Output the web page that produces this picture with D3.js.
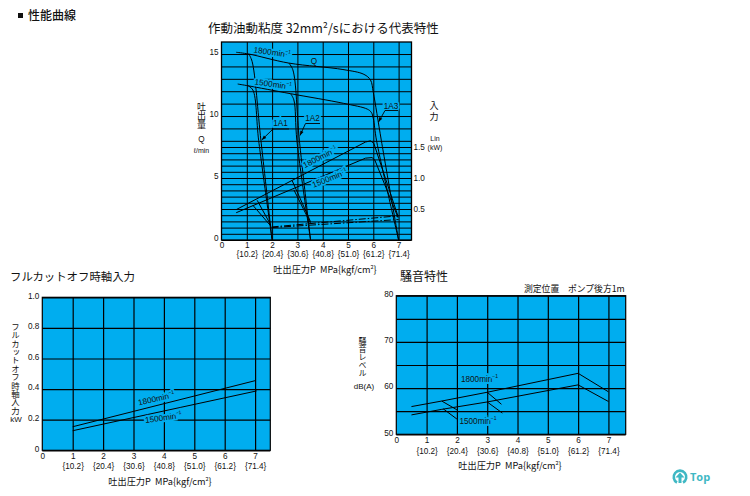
<!DOCTYPE html>
<html>
<head>
<meta charset="utf-8">
<script src="https://cdn.jsdelivr.net/npm/d3@7"></script>
<style>
  html, body { margin: 0; background: #fff; }
  svg { display: block; }
  text { font-family: "Liberation Sans", sans-serif; fill: #111; }
  .jp { font-family: "Noto Sans CJK JP", sans-serif; }
  .tick text { font-family: "Liberation Sans", sans-serif; font-size: 8.2px; fill: #111; }
  .halo { paint-order: stroke; stroke: #00adef; stroke-width: 3.5px; }
</style>
</head>
<body>
<svg id="chart" width="750" height="496"></svg>
<script>
// shared x labels
const pressureTicks = [0, 1, 2, 3, 4, 5, 6, 7]
const kgfLabels = ['', '{10.2}', '{20.4}', '{30.6}', '{40.8}', '{51.0}', '{61.2}', '{71.4}']
const xTitle = '吐出圧力P\u00a0\u00a0MPa{kgf/cm'

// main chart, flow in l/min, input in kW
const flowGrid = [0,0.5,1,1.5,2,2.5,3,3.5,4,4.5,5,5.5,6,6.5,7,7.5,8,9,10,11,12,13,14,15]
const flowTicks = [0, 5, 10, 15]
const kwTicks = [0.5, 1.0, 1.5]
const q1800 = [[0.58,15.14],[1.08,15],[2.66,14.27],[4.8,13.75],[5.63,13.36],[5.89,12.9],[6.0,11.9],[6.32,8],[7,0]]
const q1500 = [[0.64,12.58],[1.05,12.44],[2.73,11.8],[4.83,11.02],[5.76,10.56],[5.92,10.3],[6.0,9.8],[6.13,8],[7,0]]
const a1Q1800 = [[1.08,15],[1.21,14.4],[1.56,8],[2,0]]
const a1Q1500 = [[1.05,12.44],[1.24,12.1],[1.47,8],[2,0]]
const a2Q1800 = [[2.66,14.27],[2.82,13.73],[3.08,8],[3.52,0]]
const a2Q1500 = [[2.73,11.8],[2.86,11.3],[2.98,8],[3.52,0]]
const kw1800 = [[0.58,0.49],[5.69,1.58],[5.89,1.6],[6.02,1.56],[6.98,0.38]]
const kw1500 = [[0.58,0.44],[5.69,1.32],[5.95,1.33],[6.06,1.29],[6.98,0.36]]
const kwBranches = [
  [[1.41,0.64],[1.95,0.24]],
  [[1.24,0.56],[1.95,0.225]],
  [[2.79,0.96],[3.52,0.295]],
  [[2.86,0.81],[3.52,0.27]]
]
const cutoffUpper = [[1.98,0.21],[7,0.39]]
const cutoffLower = [[1.98,0.2],[7,0.33]]

// full cut-off input
const inputGrid = [0, 0.2, 0.4, 0.6, 0.8, 1.0]
const input1800 = [[1,0.154],[7,0.455]]
const input1500 = [[1,0.128],[7.05,0.388]]

// noise
const noiseGrid = [50, 55, 60, 65, 70, 75, 80]
const noiseTicks = [50, 60, 70, 80]
const noise1800 = [[0.5,56],[1.5,57.2],[3,59.1],[6,63.2],[7,59.2]]
const noise1500 = [[0.5,54.2],[1.5,55.4],[3,57],[6,60.7],[7,57.1]]
const noiseBranches = [
  [[1.5,57.2],[2,55.3]],
  [[3,59.1],[3.47,56.5]],
  [[1.55,55.5],[2,53.3]],
  [[3,57],[3.5,54.6]]
]

const svg = d3.select('#chart')

function jpText(x, y, str, size, anchor) {
  return svg.append('text').attr('class', 'jp').attr('x', x).attr('y', y)
    .attr('font-size', size).attr('text-anchor', anchor || 'start')
    .attr('dominant-baseline', 'middle').text(str)
}
function smallText(x, y, str, size, anchor) {
  return svg.append('text').attr('x', x).attr('y', y)
    .attr('font-size', size || 8).attr('text-anchor', anchor || 'middle')
    .attr('dominant-baseline', 'middle').text(str)
}
// vertical label, centred on x and starting at y
function vertical(x, y, str, size, gap) {
  return svg.append('text').attr('class', 'jp').attr('x', x).attr('y', y)
    .attr('font-size', size).style('writing-mode', 'vertical-rl')
    .style('letter-spacing', (gap || 0) + 'px').text(str)
}
function speedLabel(x, y, rpm, rot, size) {
  const t = svg.append('text').attr('class', 'halo')
    .attr('transform', `translate(${x},${y}) rotate(${rot})`)
    .attr('font-size', size || 8.2).attr('text-anchor', 'middle')
    .attr('dominant-baseline', 'middle')
  t.append('tspan').text(rpm + 'min')
  t.append('tspan').attr('font-size', 5).attr('dy', -3).text('−1')
}
function xAxisTitle(cx, y) {
  const t = svg.append('text').attr('class', 'jp').attr('x', cx).attr('y', y)
    .attr('font-size', 9.2).attr('text-anchor', 'middle').attr('dominant-baseline', 'middle')
  t.append('tspan').text(xTitle)
  t.append('tspan').attr('font-size', 5.5).attr('dy', -3).text('2')
  t.append('tspan').attr('dy', 3).text('}')
}

// blue panel, grid and x labels
function panel(box, xDomain, yDomain, yGrid, yTicks, opt) {
  const x = d3.scaleLinear().domain(xDomain).range([box.left, box.right])
  const y = d3.scaleLinear().domain(yDomain).range([box.bottom, box.top])
  const h = box.bottom - box.top, w = box.right - box.left
  svg.append('rect').attr('x', box.left).attr('y', box.top).attr('width', w).attr('height', h)
    .attr('fill', '#00adef').attr('stroke', '#000').attr('stroke-width', opt.border)

  const gridX = svg.append('g').attr('transform', `translate(0,${box.bottom})`)
    .call(d3.axisBottom(x).tickValues(pressureTicks.slice(1)).tickSize(-h).tickFormat(''))
  const gridY = svg.append('g').attr('transform', `translate(${box.left},0)`)
    .call(d3.axisLeft(y).tickValues(yGrid).tickSize(-w).tickFormat(''))
  ;[gridX, gridY].forEach(g => {
    g.select('.domain').remove()
    g.selectAll('line').attr('stroke', '#000').attr('stroke-width', opt.grid)
  })

  const row1 = svg.append('g').attr('transform', `translate(0,${box.bottom + opt.row1})`)
    .call(d3.axisBottom(x).tickValues(pressureTicks).tickSize(0).tickPadding(0))
  const row2 = svg.append('g').attr('transform', `translate(0,${box.bottom + opt.row2})`)
    .call(d3.axisBottom(x).tickValues(pressureTicks).tickSize(0).tickPadding(0).tickFormat((d, i) => kgfLabels[i]))
  const left = svg.append('g').attr('transform', `translate(${box.left - 3},0)`)
    .call(d3.axisLeft(y).tickValues(yTicks).tickSize(0).tickPadding(0).tickFormat(opt.fmt))
  ;[row1, row2, left].forEach(g => g.select('.domain').remove())
  left.selectAll('text').attr('dy', opt.labelDy)
  return { x, y }
}

function drawLine(x, y, pts, smooth, dash) {
  const gen = d3.line().x(d => x(d[0])).y(d => y(d[1]))
  if (smooth) gen.curve(d3.curveCatmullRom.alpha(0.5))
  svg.append('path').attr('d', gen(pts)).attr('fill', 'none').attr('stroke', '#000')
    .attr('stroke-width', 1).attr('stroke-dasharray', dash || null)
}

// leader: underline, then diagonal with arrow head
function leader(x1, x2, yy, tipX, tipY) {
  svg.append('path').attr('d', `M${x2},${yy}L${x1},${yy}L${tipX},${tipY}`)
    .attr('fill', 'none').attr('stroke', '#000').attr('stroke-width', 0.9)
  const ang = Math.atan2(tipY - yy, tipX - x1)
  const a = 5, s = 0.35
  svg.append('path').attr('d',
    `M${tipX},${tipY}L${tipX - a * Math.cos(ang - s)},${tipY - a * Math.sin(ang - s)}` +
    `L${tipX - a * Math.cos(ang + s)},${tipY - a * Math.sin(ang + s)}Z`).attr('fill', '#000')
}

// headings
svg.append('rect').attr('x', 18).attr('y', 13).attr('width', 5).attr('height', 5).attr('fill', '#111')
jpText(28, 16.5, '性能曲線', 12).attr('font-weight', 500)
jpText(208, 30, '作動油動粘度 32mm²/sにおける代表特性', 12.5)
jpText(10, 277.5, 'フルカットオフ時軸入力', 11.4)
jpText(400, 277.5, '騒音特性', 12)
jpText(524, 290, '測定位置　ポンプ後方1m', 8.8)

// main chart
const main = panel({ left: 221.5, right: 411.5, top: 42, bottom: 240 }, [0, 7.51], [0, 15.97], flowGrid, flowTicks,
  { border: 1.3, grid: 1, row1: 2, row2: 11, fmt: d => d, labelDy: '0.1em' })
const kwY = d3.scaleLinear().domain([0, 15.97 / 5]).range([240, 42])
const kwAxis = svg.append('g').attr('transform', 'translate(413.5,0)')
  .call(d3.axisRight(kwY).tickValues(kwTicks).tickSize(0).tickPadding(0).tickFormat(d3.format('.1f')))
kwAxis.select('.domain').remove()

;[q1800, q1500, a1Q1800, a1Q1500, a2Q1800, a2Q1500].forEach(p => drawLine(main.x, main.y, p, true))
;[kw1800, kw1500].forEach(p => drawLine(main.x, kwY, p, false))
kwBranches.forEach(p => drawLine(main.x, kwY, p, false))
drawLine(main.x, kwY, cutoffUpper, false, '7 2 1.5 2')
drawLine(main.x, kwY, cutoffLower, false, '7 2 1.5 2')

speedLabel(272, 53, 1800, 8)
speedLabel(273, 85, 1500, 8)
speedLabel(320.5, 158, 1800, -27)
speedLabel(330, 179, 1500, -22)
svg.append('text').attr('x', 314).attr('y', 61.5).attr('font-size', 8.2)
  .attr('text-anchor', 'middle').attr('dominant-baseline', 'middle').text('Q')
;[[280.5, 124, '1A1'], [312.5, 119, '1A2'], [391, 106.5, '1A3']].forEach(d => {
  svg.append('text').attr('class', 'halo').attr('x', d[0]).attr('y', d[1]).attr('font-size', 8.2)
    .attr('text-anchor', 'middle').attr('dominant-baseline', 'middle').text(d[2])
})
leader(273, 289, 129, 261.7, 140)
leader(305.5, 320, 123.5, 300, 135.5)
leader(385, 398, 110.5, 378.5, 122)

vertical(201.5, 102, '吐出量', 9)
smallText(201.5, 140, 'Q', 8.2)
smallText(201.5, 151.5, 'ℓ/min', 7)
vertical(434, 101, '入力', 9, 2)
smallText(435, 139, 'Lin', 7)
smallText(435, 148, '(kW)', 7)
xAxisTitle(325, 269.5)

// full cut-off
const cut = panel({ left: 42.3, right: 270.3, top: 297.3, bottom: 450.3 }, [0, 7.5], [0, 1], inputGrid, inputGrid,
  { border: 1.2, grid: 1.2, row1: 3, row2: 13, fmt: d => d === 0 ? '0' : d3.format('.1f')(d), labelDy: '0.1em' })
drawLine(cut.x, cut.y, input1800)
drawLine(cut.x, cut.y, input1500)
speedLabel(156.5, 399.5, 1800, -13)
speedLabel(163.5, 418.5, 1500, -8)
vertical(15.5, 322.5, 'フルカットオフ時軸入力', 8.4)
smallText(16, 420, 'kW', 8)
xAxisTitle(160, 482)

// noise
const noise = panel({ left: 396.3, right: 625.7, top: 295.7, bottom: 434.3 }, [0, 7.57], [50, 80], noiseGrid, noiseTicks,
  { border: 1.2, grid: 1.2, row1: 3, row2: 13.5, fmt: d => d, labelDy: '0.1em' })
drawLine(noise.x, noise.y, noise1800)
drawLine(noise.x, noise.y, noise1500)
noiseBranches.forEach(p => drawLine(noise.x, noise.y, p))
speedLabel(479.5, 380, 1800, 0)
speedLabel(478, 421.5, 1500, 0)
vertical(362.5, 337, '騒音レベル', 8)
smallText(364, 386.5, 'dB(A)', 8)
xAxisTitle(510, 466)

// back-to-top link
svg.append('path').attr('d', 'M677,482.5A6.3,6.3 0 1 1 683,482.5')
  .attr('fill', 'none').attr('stroke', '#3fb8c4').attr('stroke-width', 2.6)
svg.append('path').attr('d', 'M680,472.5L684.5,477.5H681.5V483H678.5V477.5H675.5Z').attr('fill', '#3fb8c4')
svg.append('text').attr('x', 690).attr('y', 478).attr('font-size', 11).attr('font-weight', 700)
  .attr('dominant-baseline', 'middle').style('fill', '#3fb8c4').style('font-family', '"Open Sans", sans-serif').text('Top')
</script>
</body>
</html>
